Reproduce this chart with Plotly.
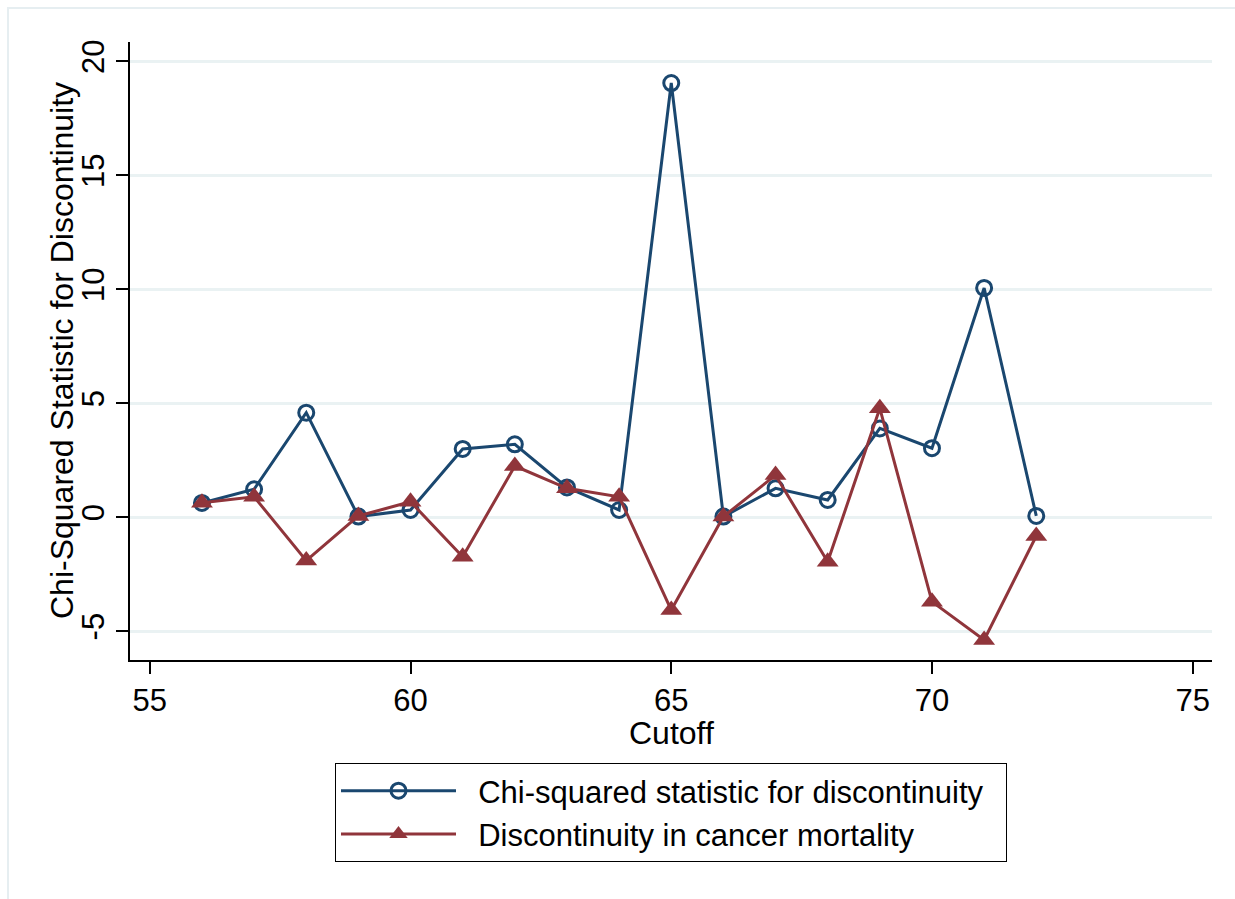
import plotly.graph_objects as go

cutoff = [56, 57, 58, 59, 60, 61, 62, 63, 64, 65, 66, 67, 68, 69, 70, 71, 72]
chi_sq = [0.63, 1.23, 4.59, 0.03, 0.32, 3.0, 3.2, 1.31, 0.32, 19.05, 0.03, 1.27, 0.76, 3.9, 3.03, 10.06, 0.06]
disc_cancer = [0.64, 0.9, -1.9, 0.06, 0.68, -1.73, 2.25, 1.27, 0.9, -4.07, 0.03, 1.85, -1.95, 4.78, -3.7, -5.38, -0.82]

x_ticks = [55, 60, 65, 70, 75]
y_ticks = [-5, 0, 5, 10, 15, 20]
x_title = "Cutoff"
y_title = "Chi-Squared Statistic for Discontinuity"

NAVY = "#1A476F"
MAROON = "#90353B"
FONT = "Liberation Sans, Arial, sans-serif"
NB = "\u00a0\u00a0"

fig = go.Figure()
fig.add_trace(go.Scatter(
    x=cutoff, y=chi_sq, mode="lines+markers",
    name=NB + "Chi-squared statistic for discontinuity" + "\u00a0\u00a0",
    line=dict(color=NAVY, width=3),
    marker=dict(symbol="circle-open", size=15, color=NAVY, line=dict(width=3, color=NAVY)),
))
fig.add_trace(go.Scatter(
    x=cutoff, y=disc_cancer, mode="lines+markers",
    name=NB + "Discontinuity in cancer mortality",
    line=dict(color=MAROON, width=3),
    marker=dict(symbol="triangle-up", size=19, color=MAROON),
))

W, H = 1235, 899
L, R, T, B = 130, 23, 42, 239
pw, ph = W - L - R, H - T - B

def px_x(p):
    return (p - L) / pw

def px_y(p):
    return (H - B - p) / ph

fig.add_shape(type="rect", xref="paper", yref="paper",
              x0=px_x(8), x1=px_x(1300), y0=px_y(960), y1=px_y(8),
              line=dict(color="#E6EEF1", width=2), fillcolor="rgba(0,0,0,0)", layer="below")

fig.add_annotation(text=x_title, xref="paper", yref="paper",
                   x=0.5, y=px_y(733), xanchor="center", yanchor="middle",
                   showarrow=False, font=dict(size=32, family=FONT, color="black"))
fig.add_annotation(text=y_title, xref="paper", yref="paper",
                   x=px_x(62), y=px_y(351), xanchor="center", yanchor="middle",
                   textangle=-90, showarrow=False,
                   font=dict(size=32, family=FONT, color="black"))

fig.update_layout(
    width=W, height=H,
    margin=dict(l=L, r=R, t=T, b=B, pad=0),
    paper_bgcolor="white", plot_bgcolor="white",
    font=dict(family=FONT, size=32, color="black"),
    showlegend=True,
    legend=dict(
        x=0.5, xanchor="center", y=px_y(763), yanchor="top",
        bordercolor="black", borderwidth=1,
        font=dict(size=31, family=FONT, color="black"),
        itemwidth=115,
        bgcolor="white",
        tracegroupgap=0,
    ),
    xaxis=dict(
        range=[54.62, 75.37], tickvals=x_ticks, ticktext=[str(v) for v in x_ticks],
        showgrid=False, zeroline=False,
        showline=True, linecolor="black", linewidth=1.5,
        ticks="outside", ticklen=12, tickwidth=1.5, tickcolor="black",
        tickfont=dict(size=31),
    ),
    yaxis=dict(
        range=[-6.26, 20.85], tickvals=y_ticks, ticktext=[str(v) for v in y_ticks],
        showgrid=True, gridcolor="#EAF2F3", gridwidth=2.5,
        zeroline=False,
        showline=True, linecolor="black", linewidth=1.5,
        ticks="outside", ticklen=12, tickwidth=1.5, tickcolor="black",
        tickangle=-90, tickfont=dict(size=31),
    ),
)

fig.write_html("out.html")
